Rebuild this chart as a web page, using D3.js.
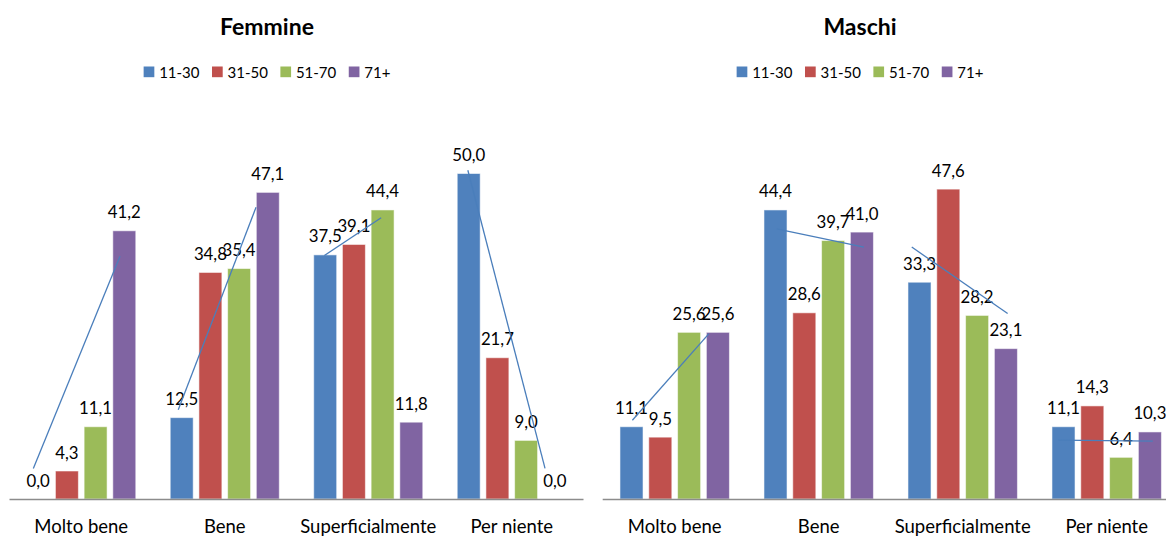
<!DOCTYPE html>
<html>
<head>
<meta charset="utf-8">
<script src="https://cdn.jsdelivr.net/npm/d3@7"></script>
<style>
  html, body { margin: 0; padding: 0; background: #fff; }
  svg { display: block; font-family: Lato, "Open Sans", sans-serif; }
</style>
</head>
<body>
<svg id="chart" width="1166" height="537"></svg>
<script>
// Categories and age groups
const categories = ["Molto bene", "Bene", "Superficialmente", "Per niente"];
const ageGroups = ["11-30", "31-50", "51-70", "71+"];
const colors = ["#4F81BD", "#C0504D", "#9BBB59", "#8064A2"];

// Percentages per category, one value per age group
const femmineValues = [
  [0.0, 4.3, 11.1, 41.2],
  [12.5, 34.8, 35.4, 47.1],
  [37.5, 39.1, 44.4, 11.8],
  [50.0, 21.7, 9.0, 0.0]
];
const maschiValues = [
  [11.1, 9.5, 25.6, 25.6],
  [44.4, 28.6, 39.7, 41.0],
  [33.3, 47.6, 28.2, 23.1],
  [11.1, 14.3, 6.4, 10.3]
];

// Hand-drawn trend strokes inside each category:
// [category index, start bar position, start value, end bar position, end value]
const femmineTrends = [
  [0, -0.17, 4.7, 2.85, 37.3],
  [1, -0.12, 13.7, 2.59, 44.8],
  [2, -0.03, 37.4, 1.95, 43.2],
  [3, -0.03, 50.5, 2.66, 4.7]
];
const maschiTrends = [
  [0, 0.03, 12.1, 2.69, 25.4],
  [1, 0.04, 41.5, 3.07, 38.7],
  [2, -0.27, 38.7, 3.06, 28.5],
  [3, -0.18, 9.05, 3.10, 8.9]
];

const panels = [
  { title: "Femmine", values: femmineValues, trends: femmineTrends,
    x0: 9.5, x1: 583.5, center: 267 },
  { title: "Maschi", values: maschiValues, trends: maschiTrends,
    x0: 602.7, x1: 1178.7, center: 860 }
];

const svg = d3.select("#chart");
const baseY = 499;
const y = d3.scaleLinear().domain([0, 50]).range([baseY, baseY - 325.5]);
const fmt = v => d3.format(".1f")(v).replace(".", ",");

panels.forEach(p => {
  const g = svg.append("g");

  const xCat = d3.scaleBand().domain(categories).range([p.x0, p.x1]).padding(0);
  const xBar = d3.scaleBand().domain(d3.range(ageGroups.length))
    .range([0, xCat.bandwidth()]).paddingInner(0.2).paddingOuter(0.6);
  const barCenter = (ci, pos) =>
    xCat(categories[ci]) + xBar(0) + xBar.bandwidth() / 2 + pos * xBar.step();

  // Title
  g.append("text")
    .attr("x", p.center).attr("y", 35)
    .attr("text-anchor", "middle")
    .attr("font-weight", "bold").attr("font-size", 23)
    .attr("fill", "#000")
    .text(p.title);

  // Legend, laid out from measured text widths and centred on the panel
  const leg = g.append("g");
  let cx = 0;
  ageGroups.forEach((a, i) => {
    const item = leg.append("g").attr("transform", `translate(${cx},0)`);
    item.append("rect").attr("x", 0).attr("y", 66.5)
      .attr("width", 10.7).attr("height", 10.7).attr("fill", colors[i]);
    const t = item.append("text").attr("x", 15.5).attr("y", 77.5)
      .attr("font-size", 15).attr("fill", "#000").text(a);
    cx += 15.5 + t.node().getComputedTextLength() + 12.5;
  });
  const legW = cx - 12.5;
  leg.attr("transform", `translate(${p.center - legW / 2},0)`);

  // Bars
  p.values.forEach((vals, ci) => {
    const cg = g.append("g")
      .attr("transform", `translate(${xCat(categories[ci])},0)`);
    cg.selectAll("rect").data(vals).join("rect")
      .attr("x", (d, i) => xBar(i))
      .attr("y", d => y(d))
      .attr("width", xBar.bandwidth())
      .attr("height", d => baseY - y(d))
      .attr("fill", (d, i) => colors[i])
      .attr("stroke", "rgba(255,255,255,0.55)")
      .attr("stroke-width", 1);
    cg.selectAll("text").data(vals).join("text")
      .attr("x", (d, i) => xBar(i) + xBar.bandwidth() / 2)
      .attr("y", d => y(d) - 12.5)
      .attr("text-anchor", "middle")
      .attr("font-size", 16.8)
      .attr("fill", "#000")
      .text(d => fmt(d));
  });

  // Category axis
  g.append("line")
    .attr("x1", p.x0).attr("x2", p.x1)
    .attr("y1", baseY + 0.5).attr("y2", baseY + 0.5)
    .attr("stroke", "#8c8c8c").attr("stroke-width", 1.5);
  g.selectAll("text.cat").data(categories).join("text")
    .attr("class", "cat")
    .attr("x", d => xCat(d) + xCat.bandwidth() / 2)
    .attr("y", 533)
    .attr("text-anchor", "middle")
    .attr("font-size", 18.5)
    .attr("fill", "#000")
    .text(d => d);

  // Trend strokes
  g.selectAll("line.trend").data(p.trends).join("line")
    .attr("class", "trend")
    .attr("x1", d => barCenter(d[0], d[1]))
    .attr("y1", d => y(d[2]))
    .attr("x2", d => barCenter(d[0], d[3]))
    .attr("y2", d => y(d[4]))
    .attr("stroke", "#4A7EBB").attr("stroke-width", 1.3);
});
</script>
</body>
</html>
